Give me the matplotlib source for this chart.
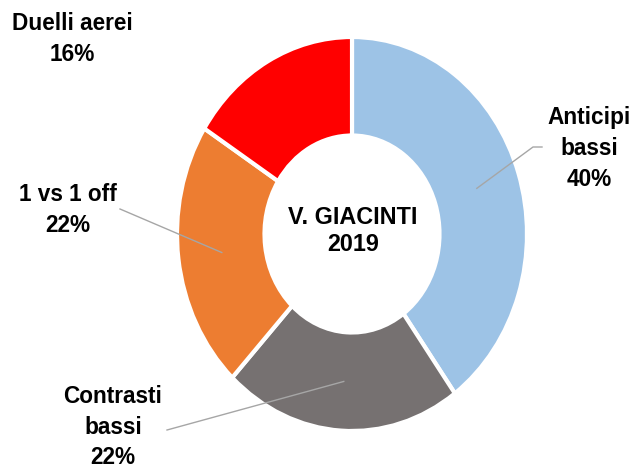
import matplotlib
matplotlib.use("Agg")
import matplotlib.pyplot as plt
import numpy as np

categories = ["Anticipi\nbassi", "Contrasti\nbassi", "1 vs 1 off", "Duelli aerei"]
values = [40, 22, 22, 16]
colors = ["#9DC3E6", "#767171", "#ED7D31", "#FF0000"]
center_title = "V. GIACINTI\n2019"

W, H = 632, 470
CX, CY = 352, 234      # pixel centre of the donut
RX, RY = 175, 197      # pixel radii (ellipse)

fig = plt.figure(figsize=(W / 100, H / 100), dpi=100)
ax = fig.add_axes([0, 0, 1, 1])
ax.axis("off")

def px(x, y):
    return (x - CX) / RX, -(y - CY) / RY

wedges, _ = ax.pie(values, colors=colors, startangle=90, counterclock=False,
                   radius=1.0, center=(0, 0),
                   wedgeprops=dict(width=0.5, edgecolor="white", linewidth=3))
ax.set_xlim((0 - CX) / RX, (W - CX) / RX)
ax.set_ylim(-(H - CY) / RY, CY / RY)
ax.set_aspect("auto")

font = dict(family=["Liberation Sans", "DejaVu Sans"], fontweight="bold",
            fontsize=16.3, color="black", ha="center", va="center",
            linespacing=1.42)

# label text positions (pixels) and leader line ends (pixels)
label_pos = [(589, 148.5), (113, 427), (68, 210), (72, 39)]
leader_end = [[(533, 147), (542, 147)], [(167, 430)], [(120, 209)], None]

for w, cat, v, lp, le in zip(wedges, categories, values, label_pos, leader_end):
    ang = np.deg2rad((w.theta1 + w.theta2) / 2)
    ax.text(*px(*lp), f"{cat}\n{v}%", **font)
    if le is not None:
        xs = [0.75 * np.cos(ang)] + [px(*p)[0] for p in le]
        ys = [0.75 * np.sin(ang)] + [px(*p)[1] for p in le]
        ax.plot(xs, ys, color="#A6A6A6", lw=1.0, zorder=5)

cfont = dict(font)
cfont.update(fontsize=16.8, linespacing=1.2)
ax.text(*px(353, 231), center_title, **cfont)

fig.savefig("out.png", dpi=100, facecolor="white")
